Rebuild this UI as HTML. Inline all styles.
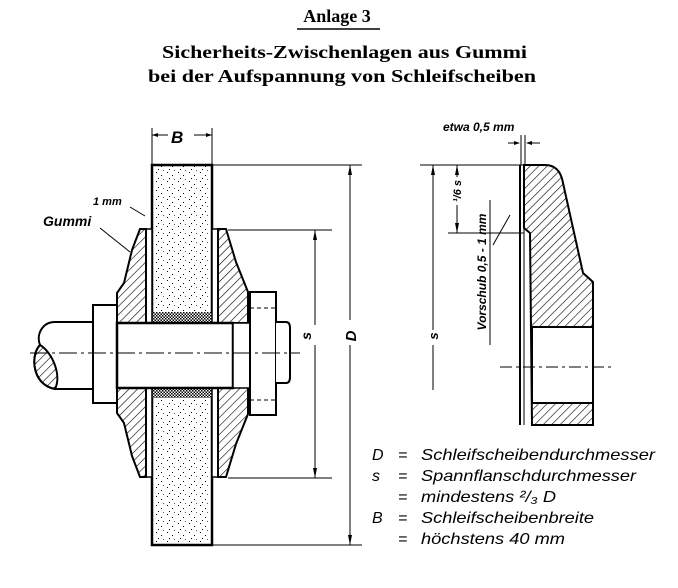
<!DOCTYPE html>
<html><head><meta charset="utf-8"><style>
html,body{margin:0;padding:0;background:#fff;width:678px;height:588px;overflow:hidden}
svg{display:block}
text{font-family:"Liberation Sans",sans-serif}
.t{font-family:"Liberation Serif",serif;font-weight:bold}
.i{font-style:italic;font-weight:bold}
</style></head><body>
<svg width="678" height="588" viewBox="0 0 678 588" xmlns="http://www.w3.org/2000/svg">
<defs>
<pattern id="h" width="6" height="6" patternUnits="userSpaceOnUse" patternTransform="rotate(45)">
<line x1="0" y1="0" x2="0" y2="6" stroke="#000" stroke-width="1.2"/></pattern>
<pattern id="x" width="3" height="3" patternUnits="userSpaceOnUse">
<rect width="3" height="3" fill="#fff"/><rect width="1.5" height="1.5" fill="#000"/><rect x="1.5" y="1.5" width="1.5" height="1.5" fill="#000"/></pattern>
<pattern id="d" width="11" height="9" patternUnits="userSpaceOnUse">
<rect x="2" y="1" width="1" height="1" fill="#000"/><rect x="7" y="4" width="1" height="1" fill="#000"/><rect x="4" y="7" width="1" height="1" fill="#000"/><rect x="9" y="8" width="1" height="1" fill="#555"/></pattern>
</defs>
<text class="t" x="337" y="22" font-size="18" text-anchor="middle">Anlage 3</text>
<line x1="297" y1="29" x2="380" y2="29" stroke="#000" stroke-width="1.5"/>
<text class="t" x="162" y="58" font-size="18" textLength="365" lengthAdjust="spacingAndGlyphs">Sicherheits-Zwischenlagen aus Gummi</text>
<text class="t" x="148" y="82" font-size="18" textLength="388" lengthAdjust="spacingAndGlyphs">bei der Aufspannung von Schleifscheiben</text>

<g stroke="#000" fill="none">
<rect x="152" y="165" width="60" height="380" fill="url(#d)" stroke-width="2.5"/>
<rect x="152" y="312" width="60" height="12" fill="url(#x)" stroke="none"/>
<rect x="152" y="387" width="60" height="11" fill="url(#x)" stroke="none"/>
<rect x="146" y="229" width="6" height="248" fill="#fff" stroke-width="1.5"/>
<rect x="212" y="229" width="6" height="248" fill="#fff" stroke-width="1.5"/>
<polygon points="140,229 146,229 146,323 117,323 117,293 124,283 132,250" fill="url(#h)" stroke-width="2"/>
<polygon points="140,477 146,477 146,387 117,387 117,413 124,423 132,456" fill="url(#h)" stroke-width="2"/>
<polygon points="218,229 226,229 236,262 248,292 248,323 218,323" fill="url(#h)" stroke-width="2"/>
<polygon points="218,477 226,477 236,444 248,414 248,387 218,387" fill="url(#h)" stroke-width="2"/>
<path d="M93,322 H55 C42,322 36,335 40,345 C30,355 32,385 55,389 H93" fill="#fff" stroke-width="2"/>
<path d="M40,345 C30,355 32,385 55,389 C62,375 52,352 40,345Z" fill="url(#h)" stroke-width="2"/>
<rect x="93" y="305" width="24" height="98" fill="#fff" stroke-width="2"/>
<rect x="117" y="323" width="116" height="65" fill="#fff" stroke-width="2.5"/>
<rect x="233" y="323" width="17" height="65" fill="#fff" stroke-width="1.5"/>
<rect x="250" y="292" width="26" height="123" fill="#fff" stroke-width="2"/>
<line x1="250" y1="308" x2="276" y2="308" stroke-dasharray="4,3"/>
<line x1="250" y1="400" x2="276" y2="400" stroke-dasharray="4,3"/>
<path d="M276,322 H286 Q290,322 290,328 V377 Q290,383 286,383 H276" fill="#fff" stroke-width="2"/>
<line x1="30" y1="353" x2="300" y2="353" stroke-width="1" stroke-dasharray="18,4,3,4"/>
<g stroke-width="1">
<line x1="152" y1="128" x2="152" y2="165"/><line x1="212" y1="128" x2="212" y2="165"/>
<line x1="152" y1="135" x2="168" y2="135"/><line x1="194" y1="135" x2="212" y2="135"/>
<line x1="212" y1="165" x2="362" y2="165"/><line x1="212" y1="545" x2="362" y2="545"/>
<line x1="350" y1="165" x2="350" y2="320"/><line x1="350" y1="345" x2="350" y2="545"/>
<line x1="228" y1="230" x2="332" y2="230"/><line x1="228" y1="478" x2="332" y2="478"/>
<line x1="315" y1="230" x2="315" y2="325"/><line x1="315" y1="345" x2="315" y2="478"/>
<line x1="100" y1="228" x2="130" y2="252"/><line x1="130" y1="207" x2="145" y2="216"/>
</g>
</g>
<g fill="#000">
<polygon points="152,135 158,133 158,137"/><polygon points="212,135 206,133 206,137"/>
<polygon points="350,165 348,175 352,175"/><polygon points="350,545 348,535 352,535"/>
<polygon points="315,230 313,240 317,240"/><polygon points="315,478 313,468 317,468"/>
</g>
<text class="i" x="171" y="143" font-size="17">B</text>
<text class="i" x="93" y="205" font-size="11">1 mm</text>
<text class="i" x="43" y="226" font-size="14">Gummi</text>
<text class="i" x="0" y="0" font-size="14" transform="translate(311,336) rotate(-90)" text-anchor="middle">s</text>
<text class="i" x="0" y="0" font-size="15" transform="translate(356,336) rotate(-90)" text-anchor="middle">D</text>

<g stroke="#000" fill="none">
<path d="M530,233 L524,228 V165 H545 Q560,165 563,183 L583,273 L593,282 V425 H532 Z" fill="url(#h)" stroke-width="2"/>
<rect x="532" y="327" width="61" height="76" fill="#fff" stroke-width="2"/>
<line x1="520" y1="165" x2="520" y2="425" stroke-width="2"/>
<line x1="524" y1="228" x2="524" y2="425" stroke-width="1"/>
<line x1="500" y1="367" x2="615" y2="367" stroke-dasharray="12,4,3,4"/>
<g stroke-width="1">
<line x1="420" y1="165" x2="524" y2="165"/>
<line x1="433" y1="165" x2="433" y2="330"/><line x1="433" y1="345" x2="433" y2="390"/>
<line x1="457" y1="165" x2="457" y2="177"/><line x1="457" y1="205" x2="457" y2="233"/>
<line x1="448" y1="233" x2="524" y2="233"/>
<line x1="521" y1="135" x2="521" y2="165"/><line x1="525" y1="135" x2="525" y2="165"/>
<line x1="508" y1="143" x2="519" y2="143"/><line x1="527" y1="143" x2="540" y2="143"/>
<line x1="490" y1="200" x2="490" y2="345"/>
<line x1="493" y1="245" x2="510" y2="215"/>
</g>
</g>
<g fill="#000">
<polygon points="433,165 431,175 435,175"/><polygon points="457,165 455,175 459,175"/><polygon points="457,233 455,223 459,223"/>
<polygon points="520,143 514,141 514,145"/><polygon points="526,143 532,141 532,145"/>
</g>
<text class="i" x="443" y="131" font-size="12">etwa  0,5 mm</text>
<text class="i" x="0" y="0" font-size="11" transform="translate(461,191) rotate(-90)" text-anchor="middle">¹/6 s</text>
<text class="i" x="0" y="0" font-size="12" transform="translate(486,272) rotate(-90)" text-anchor="middle">Vorschub  0,5 - 1 mm</text>
<text class="i" x="0" y="0" font-size="13" transform="translate(438,336) rotate(-90)" text-anchor="middle">s</text>

<g font-size="16" font-style="italic">
<text x="372" y="460">D</text><text x="398" y="460">=</text><text x="421" y="460" textLength="234" lengthAdjust="spacingAndGlyphs">Schleifscheibendurchmesser</text>
<text x="372" y="481">s</text><text x="398" y="481">=</text><text x="421" y="481" textLength="215" lengthAdjust="spacingAndGlyphs">Spannflanschdurchmesser</text>
<text x="398" y="502">=</text><text x="421" y="502" textLength="135" lengthAdjust="spacingAndGlyphs">mindestens ²/₃ D</text>
<text x="372" y="523">B</text><text x="398" y="523">=</text><text x="421" y="523" textLength="173" lengthAdjust="spacingAndGlyphs">Schleifscheibenbreite</text>
<text x="398" y="544">=</text><text x="421" y="544" textLength="144" lengthAdjust="spacingAndGlyphs">höchstens 40 mm</text>
</g>
</svg>
</body></html>
